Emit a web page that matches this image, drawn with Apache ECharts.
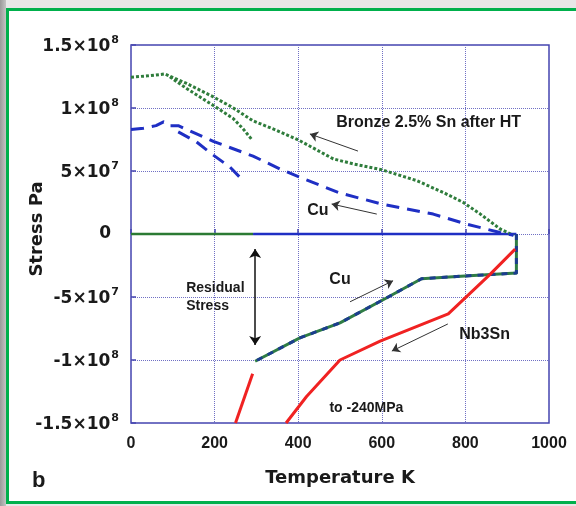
<!DOCTYPE html>
<html>
<head>
<meta charset="utf-8">
<script src="https://cdn.jsdelivr.net/npm/echarts@6/dist/echarts.min.js"></script>
<style>
html,body{margin:0;padding:0;background:#fff;}
#c{width:576px;height:506px;}
</style>
</head>
<body>
<div id="c"></div>
<script>
// ---- data (Temperature K, Stress MPa) ----
var xTicks = [0, 200, 400, 600, 800, 1000];
var yTickValues = [-150, -100, -50, 0, 50, 100, 150];
var yTickMantissa = ['-1.5', '-1', '-5', '0', '5', '1', '1.5'];
var yTickExponent = ['8', '8', '7', '', '7', '8', '8'];

var bronzeMain = [[0,124.5],[40,125.5],[81,127],[133,119.5],[197,108.8],[241,100.8],[291,90],[348,82.3],[404,74],[484,59.6],[531,55.7],[600,51],[683,42.4],[747,33],[795,25],[835,16],[883,4],[915,-1]];
var bronzeBranch = [[93,124.7],[133,115.5],[197,102],[245,91.5],[268,83.5],[289,75]];
var cuMain = [[0,83],[30,84],[60,86],[78,89],[90,86],[113,86],[133,83],[197,73.5],[292,61.8],[356,51.7],[404,45],[500,32.5],[600,23.8],[723,15.8],[803,7.8],[883,1.2],[915,-1]];
var cuBranch = [[113,81],[157,73],[197,62.6],[237,53],[268,42.4]];
var zeroGreen = [[0,0],[292,0]];
var zeroBlue = [[292,0],[922,0]];
var cuCooling = [[922,0],[922,-31],[799,-33.3],[695,-35.5],[612,-50.6],[500,-70.5],[404,-82.5],[297,-101]];
var nb3snMain = [[919,-12],[859,-32],[759,-63.4],[596,-85],[500,-100],[420,-129],[371,-150]];
var nb3snLow = [[291,-111],[250,-150]];

// annotations in data coordinates
var arrows = [
  [[543,65.8],[428,79.4]],
  [[588,15.8],[480,23.8]],
  [[524,-53.8],[627,-37.1]],
  [[758,-71.4],[624,-92.9]]
];
var residualArrow = [[297,-12],[297,-88]];
var texts = [
  {t:'Bronze 2.5% Sn after HT', p:[712,88.5], size:16, align:'center'},
  {t:'Cu', p:[447,18.7], size:16, align:'center'},
  {t:'Cu', p:[500,-36.3], size:16, align:'center'},
  {t:'Nb3Sn', p:[846,-80.1], size:16, align:'center'},
  {t:'to -240MPa', p:[563,-138.4], size:14, align:'center'},
  {t:'Residual\nStress', p:[132,-50], size:14, align:'left'}
];

var chart = echarts.init(document.getElementById('c'), null, {renderer:'canvas'});
var border = '#4545b0';
var grey = '#1a1a1a';

function line(data, color, width, type, z) {
  return {type:'line', data:data, showSymbol:false, symbol:'none', silent:true, z:z||2,
    lineStyle:{color:color, width:width, type:type||'solid', cap:'butt', join:'round'}, animation:false};
}

var option = {
  animation:false,
  backgroundColor:'#ffffff',
  grid:{left:131, right:27, top:45, bottom:83, show:true, borderColor:border, borderWidth:1.5, backgroundColor:'transparent'},
  xAxis:{type:'value', min:0, max:1000, interval:200,
    axisLine:{show:false}, axisTick:{show:true, inside:true, length:5, lineStyle:{color:border, width:1.5}},
    splitLine:{show:true, lineStyle:{color:'#7070c4', type:[1,1], width:1}},
    axisLabel:{margin:13, color:grey, fontFamily:'Liberation Sans', fontWeight:'bold', fontSize:16,
      formatter:function(v){ return xTicks.indexOf(v)>=0 ? String(v) : ''; }},
    name:'Temperature K', nameLocation:'middle', nameGap:46,
    nameTextStyle:{fontFamily:'DejaVu Sans', fontWeight:'bold', fontSize:18, color:grey}
  },
  yAxis:{type:'value', min:-150, max:150, interval:50,
    axisLine:{show:false}, axisTick:{show:true, inside:true, length:5, lineStyle:{color:border, width:1.5}},
    splitLine:{show:true, lineStyle:{color:'#7070c4', type:[1,1], width:1}},
    axisLabel:{margin:12, color:grey,
      formatter:function(v){
        var i = yTickValues.indexOf(v);
        if (i<0) return '';
        if (!yTickExponent[i]) return '{z|' + yTickMantissa[i] + '}';
        return '{b|' + yTickMantissa[i] + '×10}{s|' + yTickExponent[i] + '}';
      },
      rich:{
        b:{fontFamily:'DejaVu Sans', fontWeight:'bold', fontSize:17, color:grey, lineHeight:20, verticalAlign:'bottom'},
        s:{fontFamily:'DejaVu Sans', fontWeight:'bold', fontSize:11, color:grey, lineHeight:11, verticalAlign:'top', padding:[0,0,0,1]},
        z:{fontFamily:'DejaVu Sans', fontWeight:'bold', fontSize:17, color:grey, padding:[0,8,0,0]}
      }
    }
  },
  series:[
    line(zeroGreen, '#2b7a33', 2.5),
    line(zeroBlue, '#1f2fc4', 2.5),
    line(bronzeMain, '#2f7d3c', 3, [3,2], 3),
    line(bronzeBranch, '#2f7d3c', 3, [3,2], 3),
    line(cuMain, '#1f2fc4', 3, [13,8], 3),
    line(cuBranch, '#1f2fc4', 3, [13,8], 3),
    line(cuCooling, '#2f7d45', 3, 'solid', 3),
    line(cuCooling, '#1c3d8f', 3, [6,6], 4),
    line(nb3snMain, '#f02222', 3, 'solid', 5),
    line(nb3snLow, '#f02222', 3, 'solid', 5),
    {type:'lines', coordinateSystem:'cartesian2d', silent:true, z:6, animation:false,
      symbol:['none','arrow'], symbolSize:8,
      lineStyle:{color:'#333', width:1, opacity:1, curveness:0},
      data:arrows.map(function(a){ return {coords:a}; })},
    {type:'lines', coordinateSystem:'cartesian2d', silent:true, z:6, animation:false,
      symbol:['arrow','arrow'], symbolSize:9,
      lineStyle:{color:'#111', width:1.5, opacity:1, curveness:0},
      data:[{coords:residualArrow}]}
  ]
};
chart.setOption(option);

// annotation texts placed via the chart's own scales
var g = [
  {type:'rect', z:-10, silent:true, shape:{x:0,y:0,width:576,height:506}, style:{fill:'#e7e7e7'}},
  {type:'rect', z:-9, silent:true, shape:{x:0,y:0,width:6,height:506},
    style:{fill:new echarts.graphic.LinearGradient(0,0,1,0,[{offset:0,color:'#9a9a9a'},{offset:1,color:'#c4c4c4'}])}},
  {type:'rect', z:-8, silent:true, shape:{x:9,y:11,width:570,height:490}, style:{fill:'#ffffff'}},
  {type:'rect', z:100, silent:true, shape:{x:7.5,y:9.5,width:575,height:493}, style:{fill:'none', stroke:'#00b04c', lineWidth:3}},
  {type:'text', z:50, silent:true, x:32, y:470, style:{text:'b', font:'bold 22px "Liberation Sans"', fill:grey}},
  {type:'text', z:50, silent:true, x:37, y:229, rotation:Math.PI/2,
    style:{text:'Stress Pa', font:'bold 18px "DejaVu Sans"', fill:grey, align:'center', verticalAlign:'middle'}}
];
texts.forEach(function(o){
  var p = chart.convertToPixel({gridIndex:0}, o.p);
  g.push({type:'text', z:50, silent:true, x:p[0], y:p[1],
    style:{text:o.t, font:'bold ' + o.size + 'px "Liberation Sans"', fill:grey, align:o.align, verticalAlign:'middle', lineHeight:18}});
});
chart.setOption({graphic:g});
</script>
</body>
</html>
